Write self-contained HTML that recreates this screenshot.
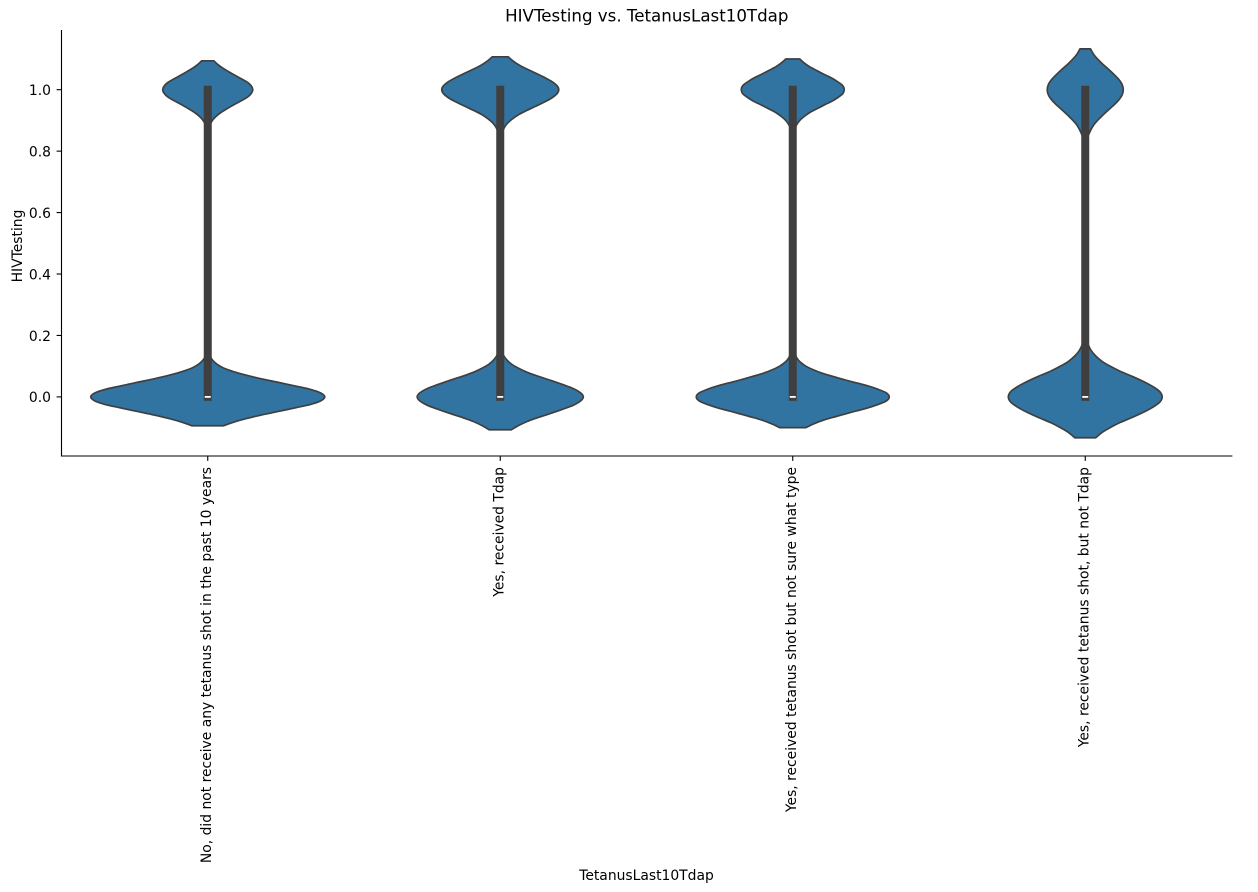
<!DOCTYPE html>
<html>
<head>
<meta charset="utf-8">
<title>HIVTesting vs. TetanusLast10Tdap</title>
<style>
html,body{margin:0;padding:0;background:#fff;}
svg{display:block;font-family:"DejaVu Sans","Liberation Sans",sans-serif;}
</style>
</head>
<body>
<svg id="chart" xmlns="http://www.w3.org/2000/svg" width="1258" height="892" viewBox="0 0 1258 892"></svg>
<script>
const categories = [
  "No, did not receive any tetanus shot in the past 10 years",
  "Yes, received Tdap",
  "Yes, received tetanus shot but not sure what type",
  "Yes, received tetanus shot, but not Tdap"
];
const yTickLabels = ["0.0","0.2","0.4","0.6","0.8","1.0"];
const yTickValues = [0,0.2,0.4,0.6,0.8,1];

const violinY0 = [-.094,-.083,-.071,-.059,-.047,-.035,-.024,-.012,0,.012,.024,.035,.047,.059,.071,.083,.094,.106,.118,.130,.142,.189,
  .811,.858,.870,.882,.894,.906,.917,.929,.941,.953,.965,.976,.988,1,1.012,1.024,1.035,1.047,1.059,1.071,1.083,1.094];
const violinW0 = [.054,.086,.130,.183,.243,.302,.353,.388,.400,.388,.353,.302,.243,.183,.130,.086,.054,.032,.018,.009,.004,0,
  0,.002,.004,.007,.012,.021,.033,.050,.071,.093,.116,.136,.149,.154,.149,.136,.116,.093,.071,.050,.033,.021];
const violinY1 = [-.107,-.094,-.080,-.067,-.054,-.040,-.027,-.013,0,.013,.027,.040,.054,.067,.080,.094,.107,.120,.134,.147,.161,.214,
  .786,.839,.853,.866,.880,.893,.906,.920,.933,.946,.960,.973,.987,1,1.013,1.027,1.040,1.054,1.067,1.080,1.094,1.107];
const violinW1 = [.038,.061,.092,.130,.172,.214,.250,.275,.284,.275,.250,.214,.172,.130,.092,.061,.038,.023,.012,.007,.003,0,
  0,.002,.005,.009,.016,.027,.043,.065,.092,.121,.151,.176,.194,.200,.194,.176,.151,.121,.092,.065,.043,.027];
const violinY2 = [-.100,-.088,-.075,-.063,-.050,-.038,-.025,-.013,0,.013,.025,.038,.050,.063,.075,.088,.100,.113,.125,.138,.150,.200,
  .800,.850,.862,.875,.887,.900,.912,.925,.937,.950,.962,.975,.987,1,1.013,1.025,1.038,1.050,1.063,1.075,1.088,1.100];
const violinW2 = [.045,.071,.107,.151,.200,.249,.291,.320,.330,.320,.291,.249,.200,.151,.107,.071,.045,.026,.015,.008,.004,0,
  0,.002,.004,.008,.014,.024,.038,.057,.081,.107,.133,.155,.171,.176,.171,.155,.133,.107,.081,.057,.038,.024];
const violinY3 = [-.133,-.116,-.100,-.083,-.067,-.050,-.033,-.017,0,.017,.033,.050,.067,.083,.100,.116,.133,.150,.166,.183,.200,.266,
  .734,.800,.817,.834,.850,.867,.884,.900,.917,.934,.950,.967,.983,1,1.017,1.033,1.050,1.067,1.083,1.100,1.116,1.133];
const violinW3 = [.036,.057,.085,.120,.160,.199,.232,.255,.263,.255,.232,.199,.160,.120,.085,.057,.036,.021,.012,.006,.003,0,
  0,.001,.003,.006,.010,.018,.028,.042,.060,.079,.098,.115,.126,.130,.126,.115,.098,.079,.060,.042,.028,.018];

const q1Values = [0,0,0,0];
const medianValues = [0,0,0,0];
const q3Values = [1,1,1,1];

const violinYs = [violinY0, violinY1, violinY2, violinY3];
const violinWs = [violinW0, violinW1, violinW2, violinW3];

const NS = "http://www.w3.org/2000/svg";
const svg = document.getElementById("chart");
const plot = {left:61.5, right:1231.5, top:30, bottom:456};
const INK = "#000000";
const EDGE = "#3f3f3f";
const FILL = "#3274a1";

function xScale(c){ return plot.left + (c + 0.5) * (plot.right - plot.left) / categories.length; }
function yScale(v){ return 396.9 - 307.2 * v; }

function make(tag, attrs, text){
  const el = document.createElementNS(NS, tag);
  for (const k in attrs) el.setAttribute(k, attrs[k]);
  if (text !== undefined) el.textContent = text;
  svg.appendChild(el);
  return el;
}

function smooth(pts){
  let d = "";
  for (let i = 0; i < pts.length - 1; i++){
    const p0 = pts[Math.max(i-1,0)], p1 = pts[i], p2 = pts[i+1], p3 = pts[Math.min(i+2,pts.length-1)];
    const c1x = p1[0] + (p2[0]-p0[0])/6, c1y = p1[1] + (p2[1]-p0[1])/6;
    const c2x = p2[0] - (p3[0]-p1[0])/6, c2y = p2[1] - (p3[1]-p1[1])/6;
    d += "C" + c1x.toFixed(2) + " " + c1y.toFixed(2) + " " + c2x.toFixed(2) + " " + c2y.toFixed(2) + " " + p2[0].toFixed(2) + " " + p2[1].toFixed(2);
  }
  return d;
}

categories.forEach(function(label, c){
  const ys = violinYs[c], ws = violinWs[c];
  const right = ys.map(function(y,i){ return [xScale(c + ws[i]), yScale(y)]; });
  const left = ys.map(function(y,i){ return [xScale(c - ws[i]), yScale(y)]; }).reverse();
  const d = "M" + right[0][0].toFixed(2) + " " + right[0][1].toFixed(2) + smooth(right) +
            "L" + left[0][0].toFixed(2) + " " + left[0][1].toFixed(2) + smooth(left) + "Z";
  const body = make("path", {d:d, fill:FILL, stroke:EDGE, "stroke-width":1.7, "stroke-linejoin":"round"});
  
  

  const box = make("line", {x1:xScale(c), x2:xScale(c), y1:yScale(q1Values[c]), y2:yScale(q3Values[c]), stroke:EDGE, "stroke-width":8, "stroke-linecap":"square"});
  
  

  const med = make("line", {x1:xScale(c)-3, x2:xScale(c)+3, y1:yScale(medianValues[c]), y2:yScale(medianValues[c]), stroke:"#ffffff", "stroke-width":1.8});
  
  
});

const axisLeft = make("line", {x1:plot.left, x2:plot.left, y1:plot.top, y2:plot.bottom+0.55, stroke:INK, "stroke-width":1.1});



const axisBottom = make("line", {x1:plot.left-0.55, x2:plot.right+0.9, y1:plot.bottom, y2:plot.bottom, stroke:INK, "stroke-width":1.1});



yTickValues.forEach(function(v, i){
  const t = make("line", {x1:plot.left-4.9, x2:plot.left, y1:yScale(v), y2:yScale(v), stroke:INK, "stroke-width":1.1});
  
  
  const l = make("text", {x:plot.left-10.5, y:yScale(v)+5.3, "text-anchor":"end", "font-size":"13.89px", fill:INK}, yTickLabels[i]);
  
  
});

categories.forEach(function(label, c){
  const t = make("line", {x1:xScale(c), x2:xScale(c), y1:plot.bottom, y2:plot.bottom+4.9, stroke:INK, "stroke-width":1.1});
  
  
  const px = xScale(c) + 3.3, py = 467;
  const l = make("text", {x:px, y:py, "text-anchor":"end", "font-size":"13.89px", fill:INK, transform:"rotate(-90 " + px + " " + py + ")"}, label);
  
  
});

const title = make("text", {x:646.8, y:21.4, "text-anchor":"middle", "font-size":"16.67px", fill:INK}, "HIVTesting vs. TetanusLast10Tdap");



const xTitle = make("text", {x:646.5, y:880, "text-anchor":"middle", "font-size":"13.89px", fill:INK}, "TetanusLast10Tdap");



const yTitle = make("text", {x:22, y:246, "text-anchor":"middle", "font-size":"13.89px", fill:INK, transform:"rotate(-90 22 246)"}, "HIVTesting");


</script>
</body>
</html>
